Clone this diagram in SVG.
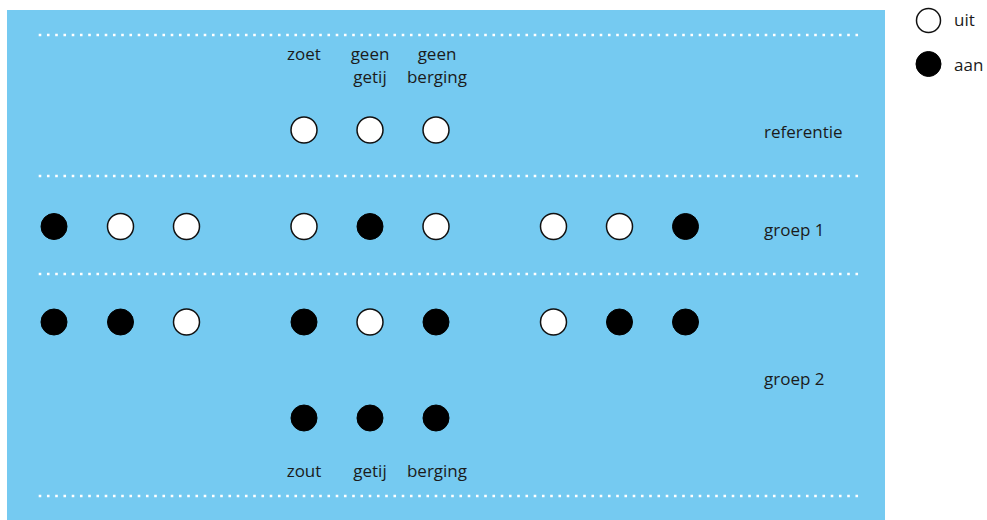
<svg xmlns="http://www.w3.org/2000/svg" width="987" height="520" viewBox="0 0 987 520">
<style>
.t{font-family:"Open Sans","Noto Sans","Liberation Sans",sans-serif;font-size:17px;fill:#1b1b1b}
.m{text-anchor:middle}
.off{fill:#ffffff;stroke:#111;stroke-width:1.5}
.on{fill:#000;stroke:#000;stroke-width:1}
.dot{stroke:#ffffff;stroke-width:2.6;stroke-dasharray:2.6 5.65;fill:none}
</style>
<rect x="7" y="10" width="878" height="510" fill="#75caf1"/>
<g id="separators">
<line class="dot" x1="38.7" y1="35" x2="860" y2="35"/>
<line class="dot" x1="38.7" y1="176" x2="860" y2="176"/>
<line class="dot" x1="38.7" y1="274" x2="860" y2="274"/>
<line class="dot" x1="38.7" y1="496" x2="860" y2="496"/>
</g>
<g id="column-labels">
<text class="t m" x="304" y="60">zoet</text>
<text class="t m" x="370" y="60">geen</text>
<text class="t m" x="370" y="83">getij</text>
<text class="t m" x="437" y="60">geen</text>
<text class="t m" x="437" y="83">berging</text>
<text class="t m" x="304" y="477">zout</text>
<text class="t m" x="370" y="477">getij</text>
<text class="t m" x="437" y="477">berging</text>
</g>
<g id="row-labels">
<text class="t" x="764" y="138">referentie</text>
<text class="t" x="764" y="236">groep 1</text>
<text class="t" x="764" y="385">groep 2</text>
</g>
<g id="referentie">
<circle class="off" cx="304" cy="130" r="13"/>
<circle class="off" cx="370" cy="130" r="13"/>
<circle class="off" cx="436" cy="130" r="13"/>
</g>
<g id="groep1">
<circle class="on" cx="54" cy="226.5" r="13"/>
<circle class="off" cx="120.5" cy="226.5" r="13"/>
<circle class="off" cx="186.5" cy="226.5" r="13"/>
<circle class="off" cx="304" cy="226.5" r="13"/>
<circle class="on" cx="370" cy="226.5" r="13"/>
<circle class="off" cx="436" cy="226.5" r="13"/>
<circle class="off" cx="553.5" cy="226.5" r="13"/>
<circle class="off" cx="619.5" cy="226.5" r="13"/>
<circle class="on" cx="685.5" cy="226.5" r="13"/>
</g>
<g id="groep2">
<circle class="on" cx="54" cy="322" r="13"/>
<circle class="on" cx="120.5" cy="322" r="13"/>
<circle class="off" cx="186.5" cy="322" r="13"/>
<circle class="on" cx="304" cy="322" r="13"/>
<circle class="off" cx="370" cy="322" r="13"/>
<circle class="on" cx="436" cy="322" r="13"/>
<circle class="off" cx="553.5" cy="322" r="13"/>
<circle class="on" cx="619.5" cy="322" r="13"/>
<circle class="on" cx="685.5" cy="322" r="13"/>
<circle class="on" cx="304" cy="418" r="13"/>
<circle class="on" cx="370" cy="418" r="13"/>
<circle class="on" cx="436" cy="418" r="13"/>
</g>
<g id="legend">
<circle class="off" cx="928.5" cy="20.5" r="12"/>
<text class="t" x="954" y="26">uit</text>
<circle class="on" cx="928.5" cy="64" r="12.5"/>
<text class="t" x="954" y="71">aan</text>
</g>
</svg>
